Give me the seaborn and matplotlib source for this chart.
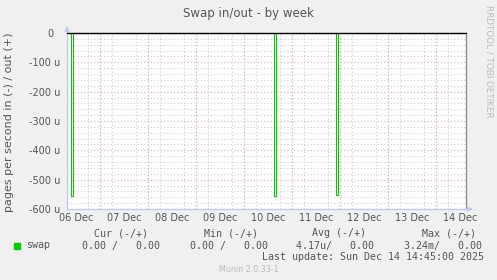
import matplotlib
matplotlib.use("Agg")
import matplotlib.pyplot as plt
import matplotlib.dates as mdates
from matplotlib.patches import Rectangle
from matplotlib.ticker import MultipleLocator, FuncFormatter
import pandas as pd
import seaborn as sns

# ---------------- data ----------------
change_times = ["2025-12-06 07:20", "2025-12-06 09:15", "2025-12-06 10:15",
                "2025-12-10 15:00", "2025-12-10 16:00",
                "2025-12-11 22:00", "2025-12-11 23:00", "2025-12-14 14:50"]
swap_in_u = [0, -555, 0, -555, 0, -553, 0, 0]      # pages/s in micro units (in = negative)
swap_out_u = [0, 0, 0, 0, 0, 0, 0, 0]
x_start = "2025-12-06 07:20"
x_end = "2025-12-14 14:50"
y_min, y_max = -600, 0
title = "Swap in/out - by week"
ylabel = "pages per second in (-) / out (+)"
headers = ["Cur (-/+)", "Min (-/+)", "Avg (-/+)", "Max (-/+)"]
values = ["0.00 /   0.00", "0.00 /   0.00", "4.17u/   0.00", "3.24m/   0.00"]
series_name = "swap"
last_update = "Last update: Sun Dec 14 14:45:00 2025"
footer = "Munin 2.0.33-1"
side_text = "RRDTOOL / TOBI OETIKER"

df = pd.DataFrame({"time": pd.to_datetime(change_times),
                   "in": swap_in_u, "out": swap_out_u})

# ---------------- styling ----------------
sns.set_style("white")
plt.rcParams["font.family"] = ["DejaVu Sans"]
W, H = 497, 280
TXT = "#555555"
GREEN = "#00CC00"
RED_GRID = "#F0A8A8"
MINOR_GRID = "#CFCFCF"
AXIS_BLUE = "#C4C8F4"

fig = plt.figure(figsize=(W / 100, H / 100), dpi=100)
fig.patch.set_facecolor("#F0F0F0")
L, R, T, B = 67, 466, 33, 209
ax = fig.add_axes([L / W, 1 - B / H, (R - L) / W, (B - T) / H])
ax.set_facecolor("white")

sns.lineplot(data=df, x="time", y="out", ax=ax, color=GREEN, lw=0.75,
             drawstyle="steps-post", estimator=None, zorder=3)
sns.lineplot(data=df, x="time", y="in", ax=ax, color=GREEN, lw=0.75,
             drawstyle="steps-post", estimator=None, zorder=3)

xs, xe = pd.Timestamp(x_start), pd.Timestamp(x_end)
ax.set_xlim(xs, xe)
ax.set_ylim(y_min, y_max)

# grids
ax.yaxis.set_major_locator(MultipleLocator(100))
ax.yaxis.set_minor_locator(MultipleLocator(20))
ax.yaxis.set_major_formatter(FuncFormatter(lambda v, p: "0  " if v == 0 else f"{int(round(v))} u"))
ax.xaxis.set_major_locator(mdates.HourLocator(byhour=[12]))
ax.xaxis.set_minor_locator(mdates.HourLocator(byhour=[0, 6, 12, 18]))
ax.xaxis.set_major_formatter(mdates.DateFormatter("%d %b"))

dot = (0, (1, 2))
ax.grid(False)
ax.yaxis.grid(True, which="minor", color=MINOR_GRID, lw=0.8, ls=dot, zorder=0)
ax.yaxis.grid(True, which="major", color=RED_GRID, lw=0.8, ls=dot, zorder=0.5)
ax.xaxis.grid(True, which="minor", color=MINOR_GRID, lw=0.8, ls=dot, zorder=0)
for d in mdates.DayLocator().tick_values(xs, xe):
    ax.axvline(d, color=RED_GRID, lw=0.8, ls=dot, zorder=0.6)
ax.set_axisbelow(True)

ax.axhline(0, color="black", lw=1, zorder=4, clip_on=False)

ax.tick_params(axis="both", which="both", labelsize=7, labelcolor=TXT)
ax.tick_params(axis="y", which="major", length=2, color=RED_GRID, pad=3)
ax.tick_params(axis="y", which="minor", length=2, color=MINOR_GRID)
ax.tick_params(axis="x", which="major", length=2, color=MINOR_GRID, pad=1)
ax.tick_params(axis="x", which="minor", length=2, color=MINOR_GRID)
for lab in ax.get_xticklabels():
    lab.set_horizontalalignment("center")
ax.set_xlabel("")
ax.set_ylabel("")

ax.spines["top"].set_visible(False)
ax.spines["right"].set_color("#909090")
ax.spines["right"].set_linewidth(1)
ax.spines["left"].set_color(AXIS_BLUE)
ax.spines["bottom"].set_color(AXIS_BLUE)
ax.spines["left"].set_linewidth(1)
ax.spines["bottom"].set_linewidth(1)

# axis arrows
ax.annotate("", xy=(0, 1 + 7 / (B - T)), xytext=(0, 1), xycoords="axes fraction",
            arrowprops=dict(arrowstyle="-|>", color=AXIS_BLUE, lw=1, mutation_scale=7,
                            shrinkA=0, shrinkB=0), annotation_clip=False)
ax.annotate("", xy=(1 + 7 / (R - L), 0), xytext=(1, 0), xycoords="axes fraction",
            arrowprops=dict(arrowstyle="-|>", color=AXIS_BLUE, lw=1, mutation_scale=7,
                            shrinkA=0, shrinkB=0), annotation_clip=False)

# texts
def fy(y):
    return 1 - y / H

fig.text(0.5, fy(13), title, ha="center", va="center", fontsize=8.5, color=TXT)
fig.text(9.5 / W, fy(122), ylabel, ha="center", va="center", rotation=90,
         fontsize=8, color=TXT)
fig.text(489.5 / W, fy(61), side_text, ha="center", va="center", rotation=270,
         fontsize=6.3, color="#BBBBBB")

MONO = "DejaVu Sans Mono"
hx = [93.5, 203.5, 312.5, 422.5]
vx = [82.5, 190.5, 296.5, 403.5]
for x, h in zip(hx, headers):
    fig.text(x / W, fy(233.5), h, ha="left", va="center", family=MONO,
             fontsize=7.2, color=TXT)
for x, v in zip(vx, values):
    fig.text(x / W, fy(245.5), v, ha="left", va="center", family=MONO,
             fontsize=7.2, color=TXT)
fig.patches.append(Rectangle((14 / W, fy(248.5)), 6 / W, 6 / H,
                             transform=fig.transFigure, color=GREEN))
fig.text(26.5 / W, fy(245.5), series_name, ha="left", va="center", family=MONO,
         fontsize=7.2, color=TXT)
fig.text(483.5 / W, fy(257.5), last_update, ha="right", va="center", family=MONO,
         fontsize=7.2, color=TXT)
fig.text(248.5 / W, fy(269), footer, ha="center", va="center", fontsize=5.8,
         color="#BBBBBB")

fig.savefig("out.png", dpi=100, facecolor=fig.get_facecolor())
